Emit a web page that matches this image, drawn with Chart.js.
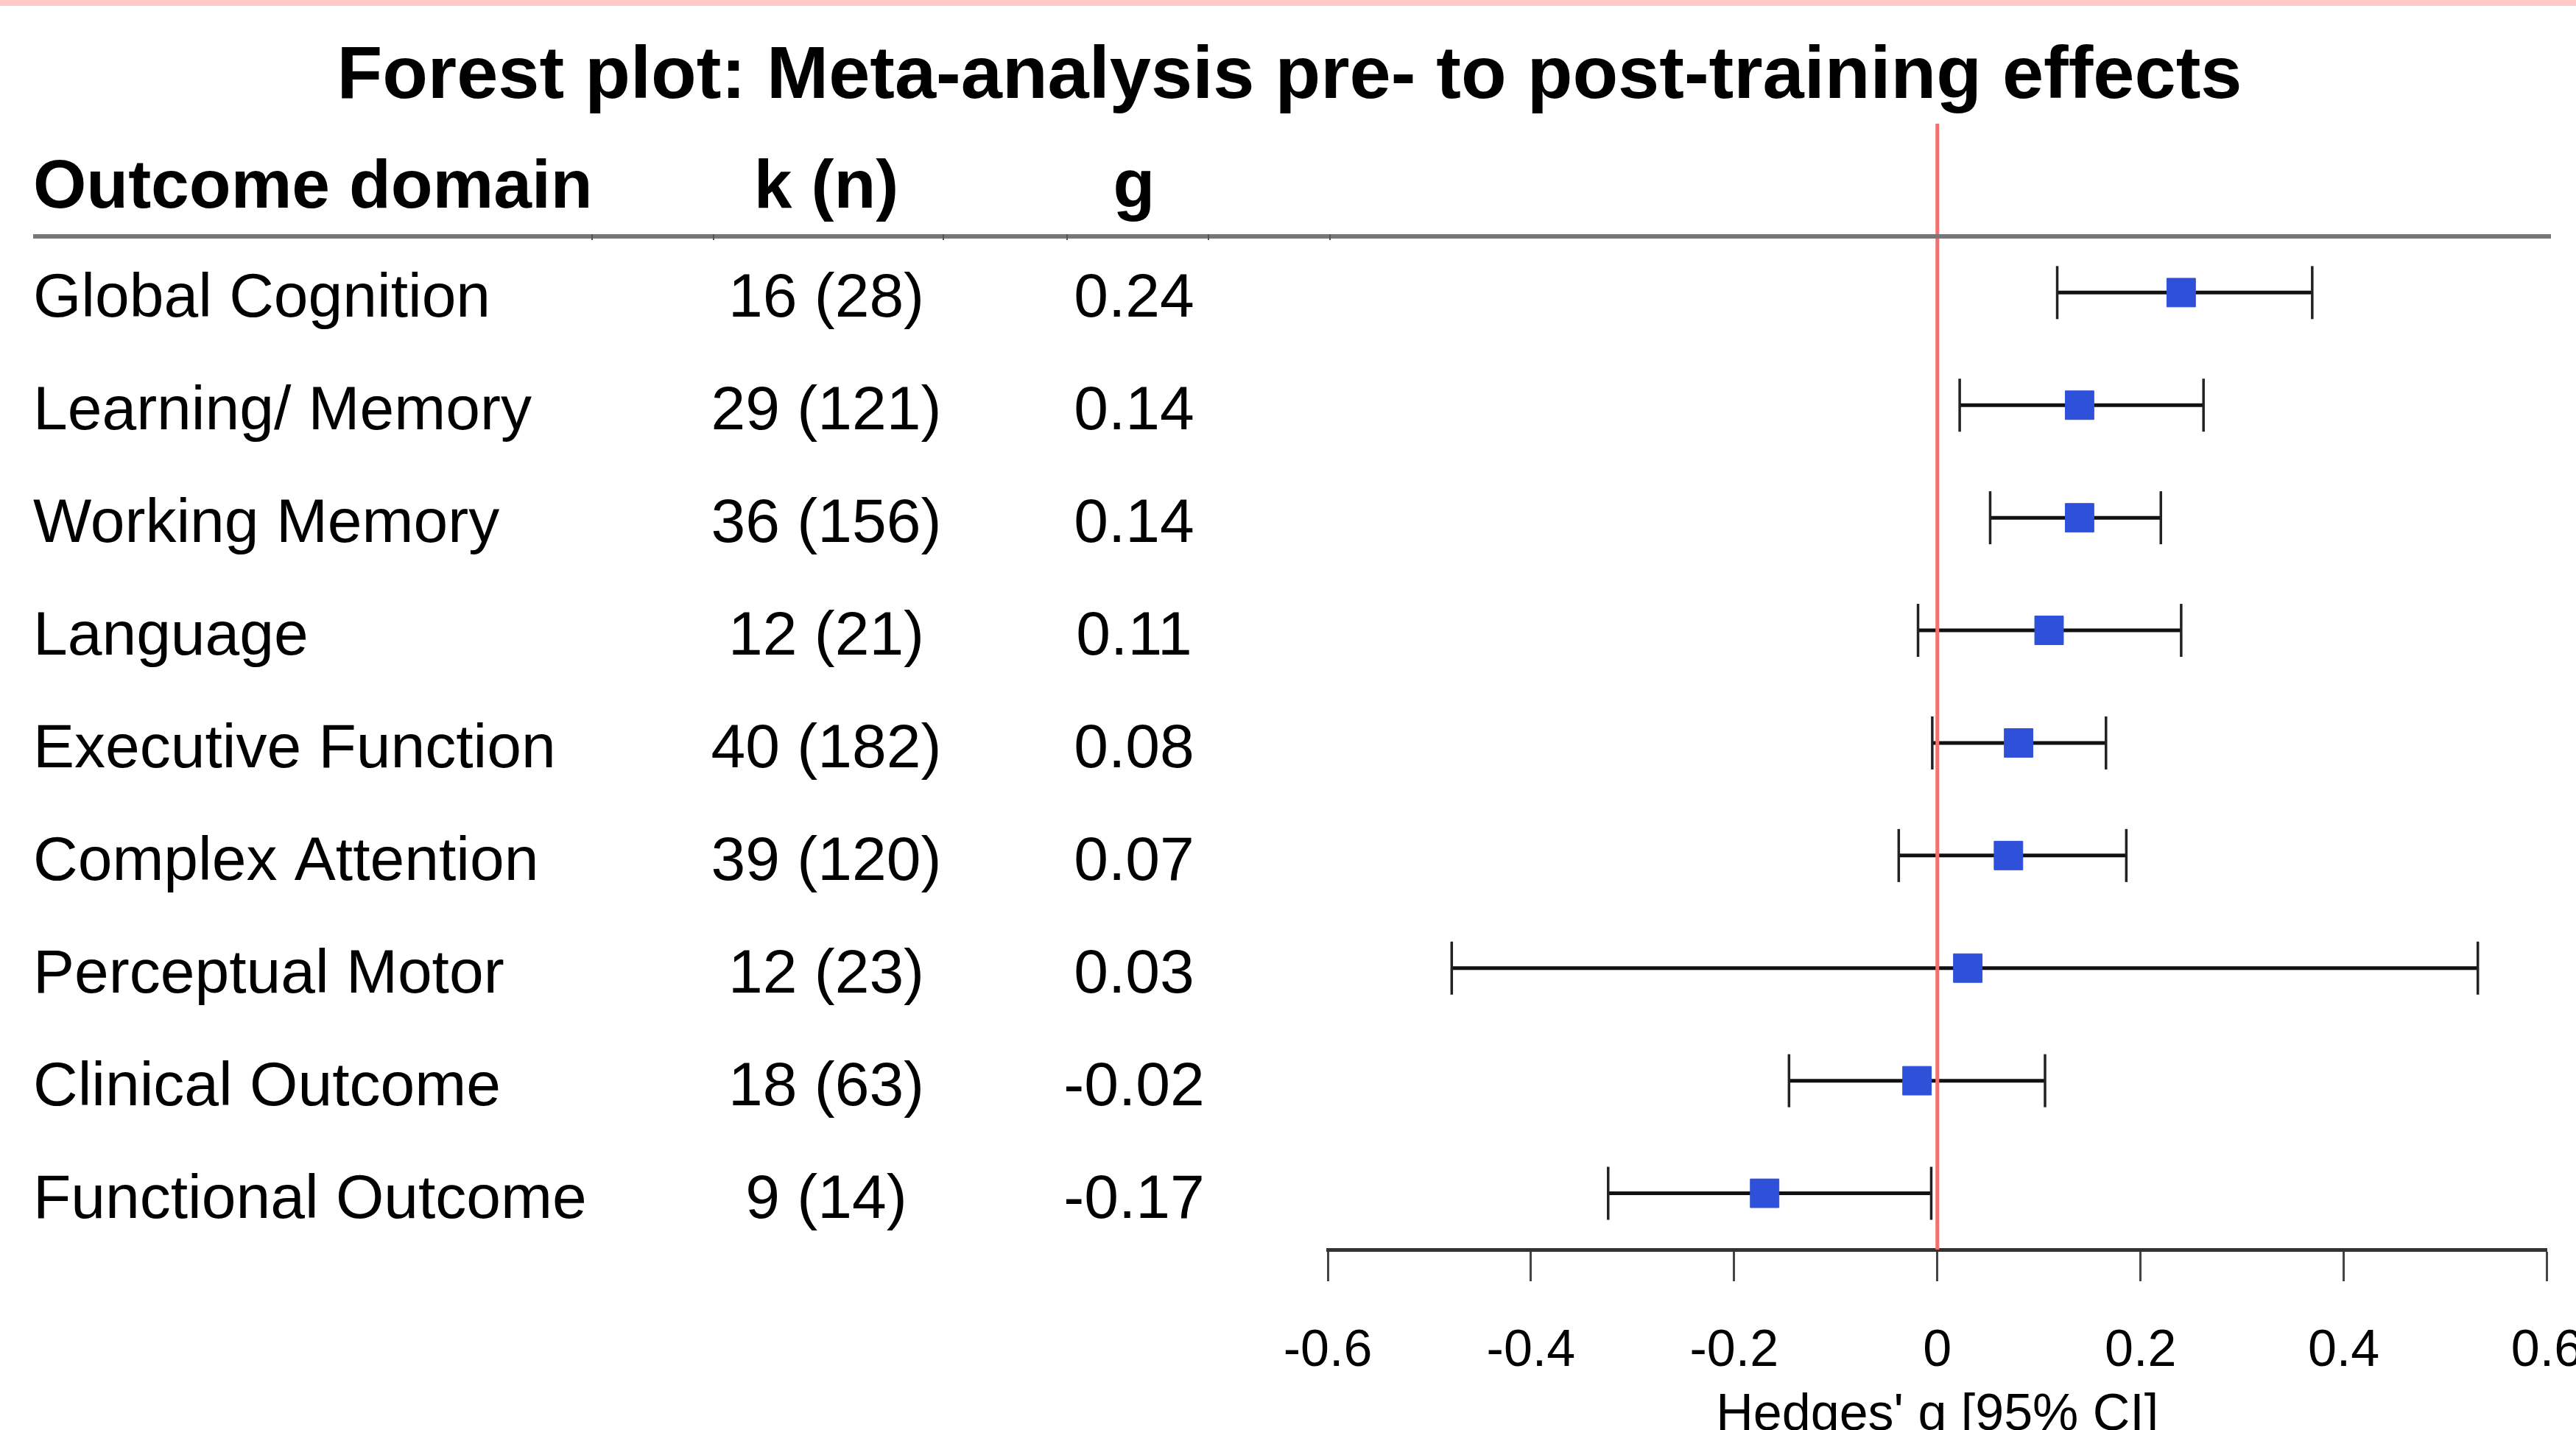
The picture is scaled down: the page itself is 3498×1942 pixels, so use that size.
<!DOCTYPE html>
<html>
<head>
<meta charset="utf-8">
<title>Forest plot</title>
<script src="https://cdn.jsdelivr.net/npm/chart.js@4.4.1/dist/chart.umd.min.js"></script>
<style>
  html, body { margin: 0; padding: 0; background: #fff; overflow: hidden; }
  #wrap { width: 3498px; height: 1942px; }
</style>
</head>
<body>
<div id="wrap"><canvas id="forest" width="3498" height="1942"></canvas></div>
<script>
const domains = ['Global Cognition', 'Learning/ Memory', 'Working Memory', 'Language', 'Executive Function',
    'Complex Attention', 'Perceptual Motor', 'Clinical Outcome', 'Functional Outcome'];
const kn = ['16 (28)', '29 (121)', '36 (156)', '12 (21)', '40 (182)', '39 (120)', '12 (23)', '18 (63)', '9 (14)'];
const g = [0.24, 0.14, 0.14, 0.11, 0.08, 0.07, 0.03, -0.02, -0.17];
const ciLow = [0.118, 0.022, 0.052, -0.019, -0.005, -0.038, -0.478, -0.146, -0.324];
const ciHigh = [0.369, 0.262, 0.22, 0.24, 0.166, 0.186, 0.532, 0.106, -0.006];
const xTicks = [-0.6, -0.4, -0.2, 0, 0.2, 0.4, 0.6];
const xTickLabels = ['-0.6', '-0.4', '-0.2', '0', '0.2', '0.4', '0.6'];

const FONT = "'Liberation Sans', Arial, Helvetica, sans-serif";
Chart.defaults.font.family = FONT;
Chart.defaults.color = '#000';

// table text, header rule and title drawn next to the plot
const tablePlugin = {
    id: 'forestTable',
    beforeDraw(chart) {
        const ctx = chart.ctx;
        ctx.save();
        ctx.fillStyle = '#ffffff';
        ctx.fillRect(0, 0, chart.width, chart.height);
        ctx.fillStyle = '#ffc9c9';
        ctx.fillRect(0, 0, chart.width, 8);
        ctx.restore();
    },
    afterDraw(chart) {
        const ctx = chart.ctx;
        const y = chart.scales.y;
        ctx.save();
        ctx.fillStyle = '#000';
        ctx.textBaseline = 'alphabetic';

        ctx.font = 'bold 101px ' + FONT;
        ctx.textAlign = 'center';
        ctx.fillText('Forest plot: Meta-analysis pre- to post-training effects', 1751, 133);

        const hy = y.getPixelForValue(-1) + 38;
        ctx.font = 'bold 93px ' + FONT;
        ctx.textAlign = 'left';
        ctx.fillText('Outcome domain', 45, hy);
        ctx.textAlign = 'center';
        ctx.fillText('k (n)', 1122, hy);
        ctx.fillText('g', 1540, hy);

        // header rule
        const ly = y.getPixelForValue(-0.5);
        ctx.strokeStyle = '#777';
        ctx.lineWidth = 6;
        ctx.beginPath();
        ctx.moveTo(45, ly);
        ctx.lineTo(3464, ly);
        ctx.stroke();
        ctx.strokeStyle = '#555';
        ctx.lineWidth = 2;
        [804, 969, 1281, 1449, 1641, 1806].forEach(x => {
            ctx.beginPath();
            ctx.moveTo(x, ly - 3);
            ctx.lineTo(x, ly + 5);
            ctx.stroke();
        });

        ctx.font = '84px ' + FONT;
        domains.forEach((d, i) => {
            const py = y.getPixelForValue(i) + 33;
            ctx.textAlign = 'left';
            ctx.fillText(d, 45, py);
            ctx.textAlign = 'center';
            ctx.fillText(kn[i], 1122, py);
            ctx.fillText(g[i].toFixed(2), 1540, py);
        });
        ctx.restore();
    }
};

const ciSets = domains.map((d, i) => ({
    label: d + ' CI',
    data: [{x: ciLow[i], y: i}, {x: ciHigh[i], y: i}],
    showLine: true,
    borderColor: '#111',
    borderWidth: 5,
    pointStyle: 'line',
    rotation: 90,
    pointRadius: 36,
    pointBorderWidth: 3.5,
    pointBorderColor: '#222',
    pointBackgroundColor: '#222',
    clip: false,
    order: 3
}));

new Chart(document.getElementById('forest'), {
    type: 'scatter',
    data: {
        datasets: [
            {
                label: 'g',
                data: g.map((v, i) => ({x: v, y: i})),
                pointStyle: 'rect',
                pointRadius: 27.5,
                pointBackgroundColor: '#2f51d9',
                pointBorderColor: '#2f51d9',
                pointBorderWidth: 1,
                order: 1
            },
            {
                label: 'no effect',
                data: [{x: 0, y: -1.5}, {x: 0, y: 8.5}],
                showLine: true,
                borderColor: '#f27070',
                borderWidth: 5,
                pointRadius: 0,
                order: 2
            },
            ...ciSets
        ]
    },
    options: {
        responsive: false,
        devicePixelRatio: 1,
        animation: false,
        layout: { padding: { left: 1803, right: 37, top: 168, bottom: 0 } },
        plugins: {
            legend: { display: false },
            tooltip: { enabled: false }
        },
        scales: {
            x: {
                type: 'linear',
                min: -0.6,
                max: 0.6,
                afterBuildTicks: (scale) => { scale.ticks = xTicks.map(v => ({ value: v })); },
                afterFit: (scale) => {
                    scale.height = 245;
                    scale.paddingLeft = 0;
                    scale.paddingRight = 0;
                },
                ticks: {
                    autoSkip: false,
                    maxRotation: 0,
                    padding: 54,
                    color: '#000',
                    font: { size: 70 },
                    callback: (v, i) => xTickLabels[i]
                },
                grid: {
                    drawOnChartArea: false,
                    drawTicks: true,
                    tickLength: 43,
                    tickWidth: 3,
                    tickColor: '#444'
                },
                border: { display: true, color: '#333', width: 5 },
                title: {
                    display: true,
                    text: "Hedges' g [95% CI]",
                    color: '#000',
                    font: { size: 70, lineHeight: 0.55 },
                    padding: { top: 0, bottom: 0 }
                }
            },
            y: {
                type: 'linear',
                display: false,
                reverse: true,
                min: -1.5,
                max: 8.5
            }
        }
    },
    plugins: [tablePlugin]
});
</script>
</body>
</html>
